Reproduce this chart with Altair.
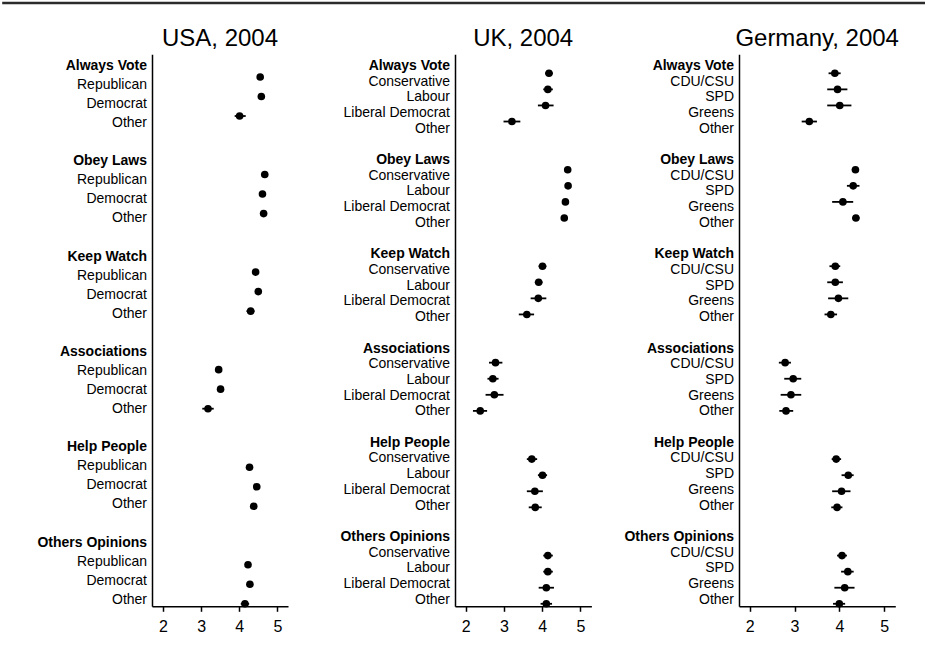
import altair as alt
import pandas as pd

items = ["Always Vote", "Obey Laws", "Keep Watch", "Associations", "Help People", "Others Opinions"]

usa_parties = ["Republican", "Democrat", "Other"]
usa_mean = [[4.55, 4.58, 4.01], [4.67, 4.61, 4.64], [4.43, 4.50, 4.30],
            [3.46, 3.51, 3.18], [4.27, 4.46, 4.38], [4.23, 4.28, 4.15]]
usa_lo = [[4.50, 4.53, 3.88], [4.62, 4.56, 4.58], [4.38, 4.45, 4.19],
          [3.41, 3.46, 3.03], [4.22, 4.41, 4.32], [4.18, 4.23, 4.04]]
usa_hi = [[4.60, 4.63, 4.17], [4.72, 4.66, 4.70], [4.48, 4.55, 4.40],
          [3.51, 3.56, 3.33], [4.32, 4.51, 4.44], [4.28, 4.33, 4.26]]

uk_parties = ["Conservative", "Labour", "Liberal Democrat", "Other"]
uk_mean = [[4.18, 4.15, 4.09, 3.21], [4.67, 4.68, 4.61, 4.58], [4.01, 3.91, 3.90, 3.60],
           [2.78, 2.71, 2.75, 2.38], [3.73, 4.01, 3.81, 3.82], [4.15, 4.15, 4.11, 4.11]]
uk_lo = [[4.08, 4.03, 3.89, 2.99], [4.61, 4.62, 4.53, 4.51], [3.91, 3.81, 3.70, 3.39],
         [2.61, 2.57, 2.52, 2.19], [3.60, 3.89, 3.60, 3.65], [4.03, 4.03, 3.91, 3.96]]
uk_hi = [[4.28, 4.28, 4.30, 3.43], [4.73, 4.74, 4.69, 4.65], [4.11, 4.01, 4.11, 3.79],
         [2.96, 2.86, 2.99, 2.56], [3.87, 4.13, 4.02, 3.99], [4.28, 4.28, 4.31, 4.26]]

de_parties = ["CDU/CSU", "SPD", "Greens", "Other"]
de_mean = [[3.90, 3.96, 4.01, 3.33], [4.36, 4.31, 4.08, 4.37], [3.91, 3.91, 3.98, 3.81],
           [2.79, 2.97, 2.92, 2.81], [3.93, 4.20, 4.05, 3.95], [4.06, 4.19, 4.12, 4.00]]
de_lo = [[3.76, 3.73, 3.73, 3.16], [4.28, 4.17, 3.84, 4.29], [3.78, 3.73, 3.75, 3.67],
         [2.65, 2.77, 2.69, 2.66], [3.83, 4.05, 3.84, 3.82], [3.95, 4.04, 3.89, 3.86]]
de_hi = [[4.03, 4.18, 4.27, 3.50], [4.44, 4.45, 4.31, 4.45], [4.02, 4.08, 4.20, 3.95],
         [2.92, 3.15, 3.15, 2.97], [4.04, 4.32, 4.25, 4.07], [4.17, 4.32, 4.34, 4.13]]

tick_values = [2, 3, 4, 5]

FONT = "Liberation Sans"
H = 552


def panel(title, parties, mean, lo, hi, xdomain, xrange_w, width, dot_top, top_rule=False):
    n = len(parties)
    G = n + 2
    lab_rows, dot_rows = [], []
    for i, item in enumerate(items):
        lab_rows.append({"lrow": i * G, "label": item, "hdr": 1})
        for j, p in enumerate(parties):
            lab_rows.append({"lrow": i * G + 1 + j, "label": p, "hdr": 0})
            dot_rows.append({"drow": i * G + j, "party": p, "item": item,
                             "mean": mean[i][j], "lo": lo[i][j], "hi": hi[i][j]})
    last_d = 5 * G + n - 1
    last_l = 5 * G + n
    du = (H - dot_top - 2.5) / last_d
    lu = (H - 18.0) / last_l
    dscale = alt.Scale(domain=[-dot_top / du, last_d + 2.5 / du], reverse=True, nice=False, zero=False)
    lscale = alt.Scale(domain=[-11.5 / lu, last_l + 6.5 / lu], reverse=True, nice=False, zero=False)
    xscale = alt.Scale(domain=xdomain, range=[0, xrange_w], nice=False, zero=False)
    xaxis = alt.Axis(values=tick_values, title=None, grid=False, tickSize=5, labelFontSize=16,
                     labelPadding=7, labelFont=FONT, labelColor="black", domainColor="black",
                     tickColor="black", domainWidth=1.5, tickWidth=1.5, format="d")
    yaxis = alt.Axis(labels=False, ticks=False, domain=True, grid=False, title=None,
                     domainColor="black", domainWidth=1.5, orient="left")

    ldf = pd.DataFrame(lab_rows)
    ddf = pd.DataFrame(dot_rows)

    hdr = alt.Chart(ldf).transform_filter("datum.hdr == 1").mark_text(
        align="right", baseline="middle", dx=-5, fontSize=14, font=FONT,
        fontWeight="bold", color="black").encode(
        x=alt.value(0), y=alt.Y("lrow:Q", scale=lscale, axis=None), text="label:N")
    prt = alt.Chart(ldf).transform_filter("datum.hdr == 0").mark_text(
        align="right", baseline="middle", dx=-5, fontSize=14, font=FONT,
        color="black").encode(
        x=alt.value(0), y=alt.Y("lrow:Q", scale=lscale, axis=None), text="label:N")
    bars = alt.Chart(ddf).mark_rule(color="black", strokeWidth=1.8).encode(
        x=alt.X("lo:Q", scale=xscale, axis=xaxis), x2="hi:Q",
        y=alt.Y("drow:Q", scale=dscale, axis=yaxis))
    dots = alt.Chart(ddf).mark_circle(size=58, color="black", opacity=1).encode(
        x=alt.X("mean:Q", scale=xscale), y=alt.Y("drow:Q", scale=dscale))
    ttl = alt.Chart(pd.DataFrame({"t": [title]})).mark_text(
        fontSize=24, font=FONT, align="center", baseline="alphabetic", color="black").encode(
        text="t:N", x=alt.value(xrange_w / 2), y=alt.value(-8))
    layers = [hdr, prt, alt.layer(bars, dots), ttl]
    if top_rule:
        rule = alt.Chart(pd.DataFrame({"z": [0]})).mark_rule(color="#2b2b2b", strokeWidth=2.5).encode(
            x=alt.value(-149.8), x2=alt.value(773), y=alt.value(-51.2))
        layers.append(rule)
    return alt.layer(*layers).resolve_scale(y="independent").properties(width=width, height=H)


usa = panel("USA, 2004", usa_parties, usa_mean, usa_lo, usa_hi, [1.71, 5.28], 136, 156, 22.7,
            top_rule=True)
uk = panel("UK, 2004", uk_parties, uk_mean, uk_lo, uk_hi, [1.72, 5.29], 136.4, 136.4, 19.0)
de = panel("Germany, 2004", de_parties, de_mean, de_lo, de_hi, [1.76, 5.25], 156.3, 156.3, 19.0)

chart = alt.hconcat(usa, uk, de, spacing=147, bounds="flush").configure_view(stroke=None).properties(
    padding={"left": 0, "top": 1.3, "right": 0, "bottom": 5},
    autosize=alt.AutoSizeParams(type="pad"))

chart.save("out.html", embed_options={"renderer": "svg", "actions": False})
